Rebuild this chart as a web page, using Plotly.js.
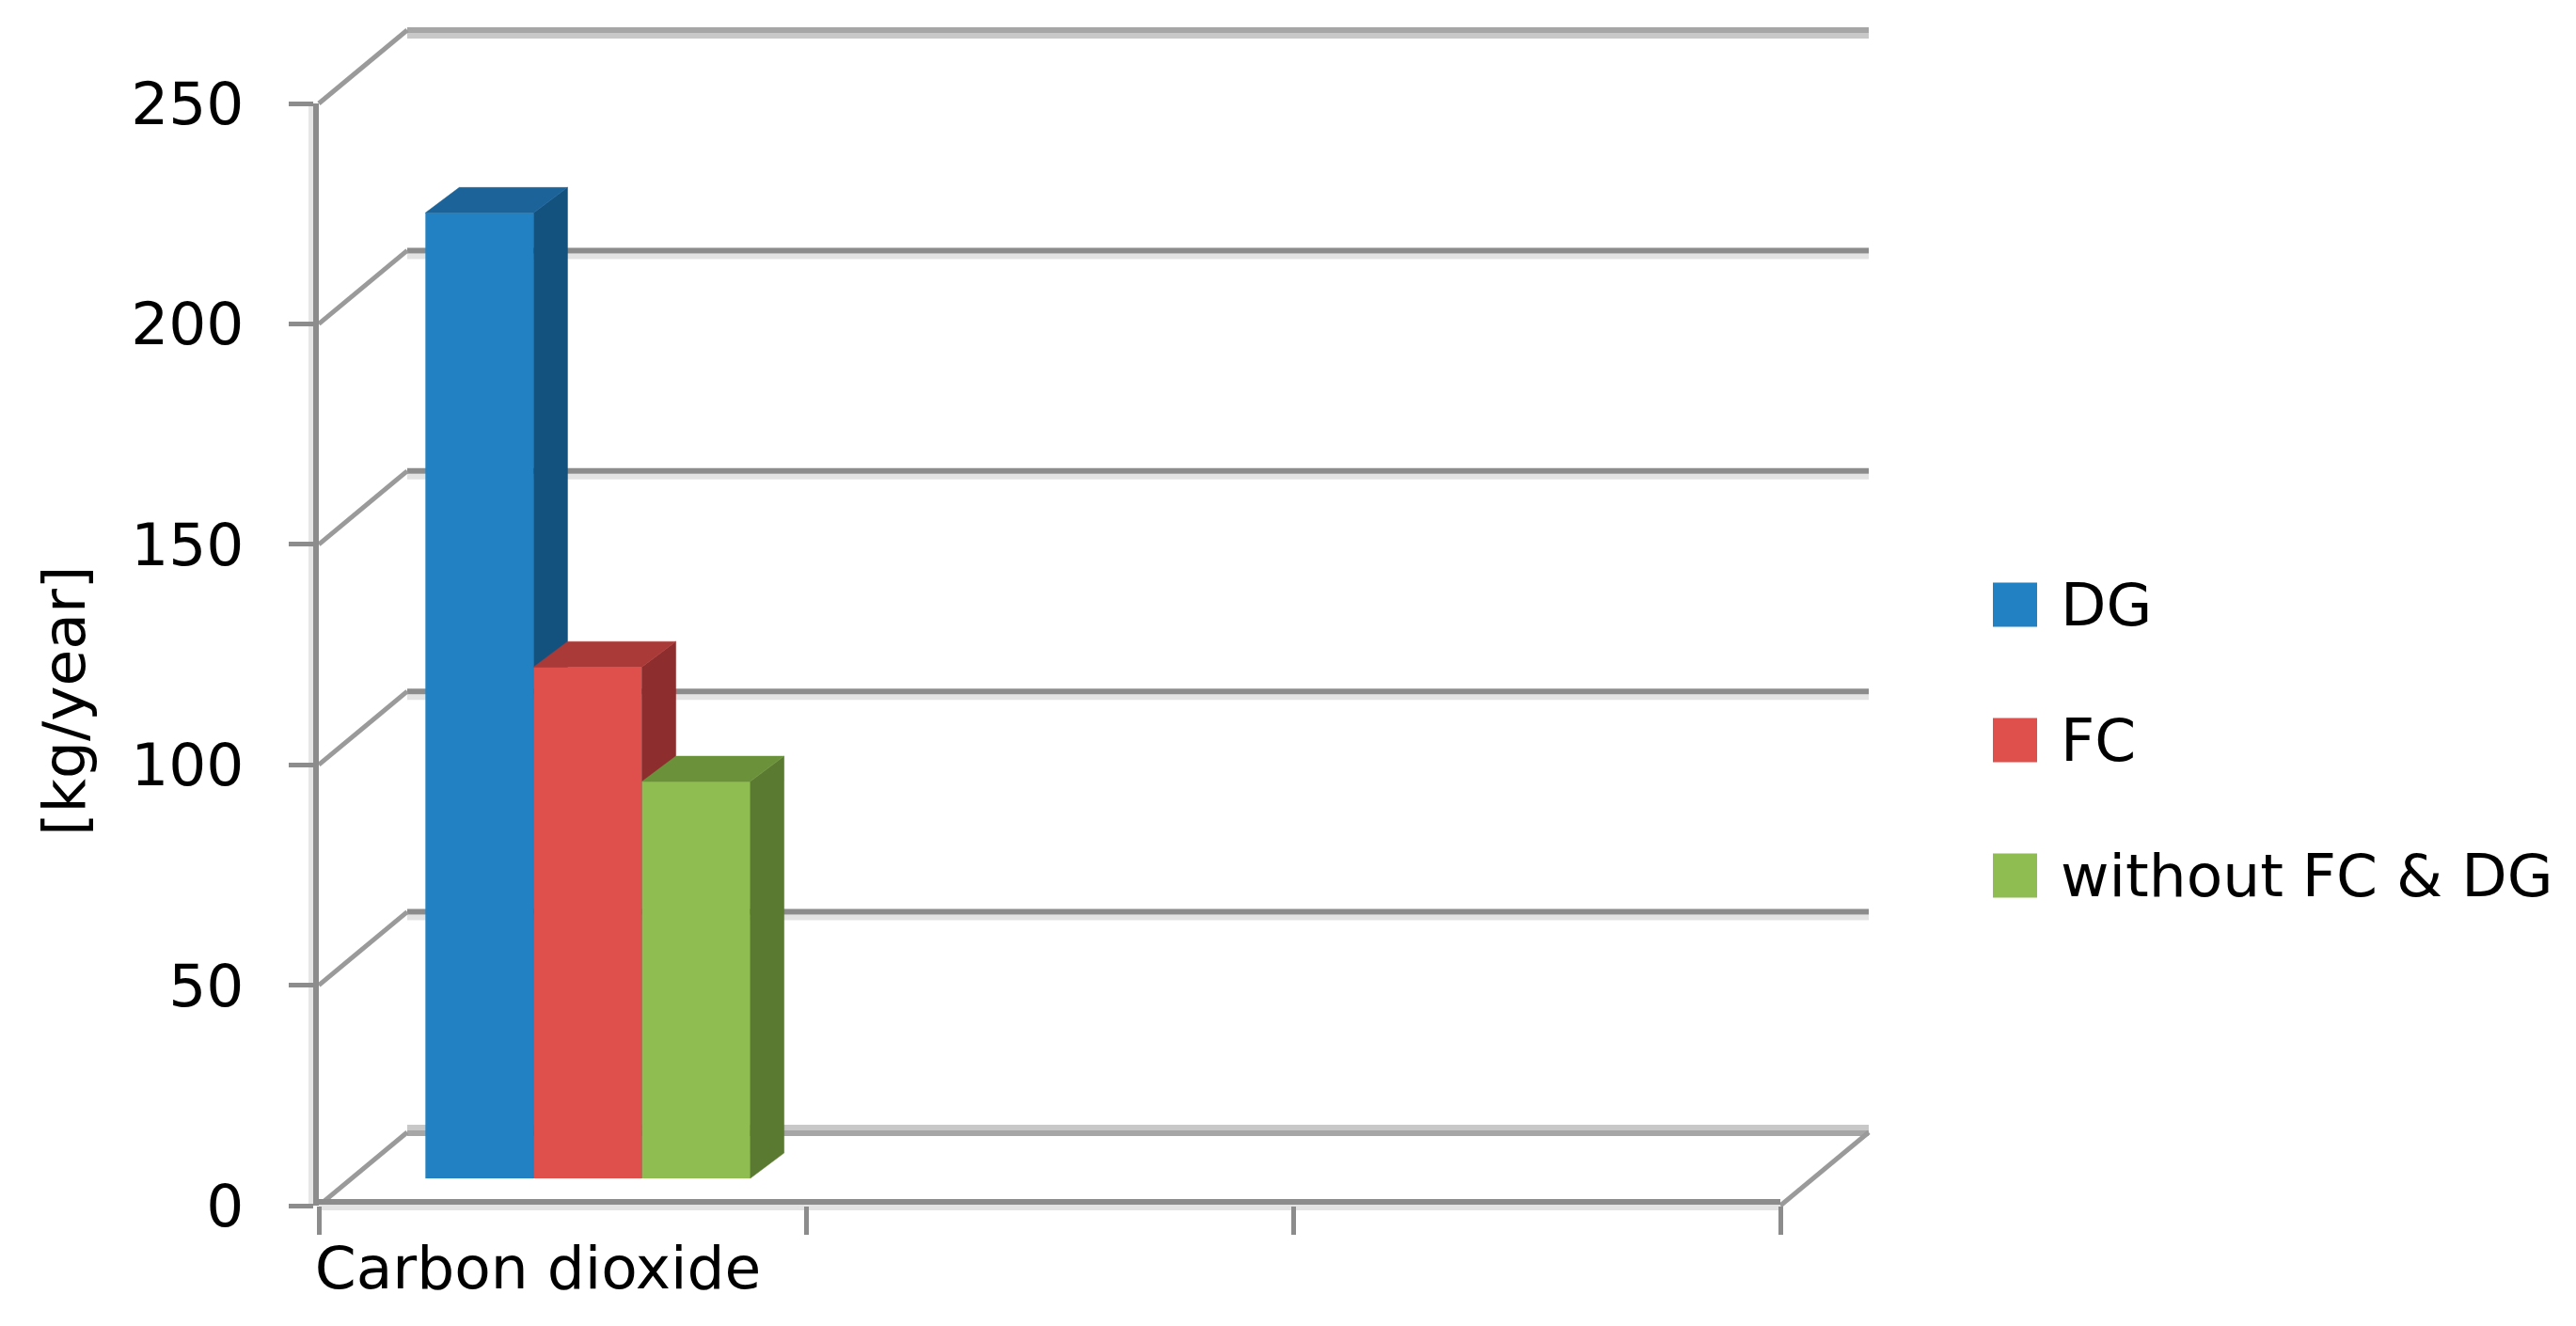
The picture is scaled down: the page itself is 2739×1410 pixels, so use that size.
<!DOCTYPE html>
<html>
<head>
<meta charset="utf-8">
<script src="https://cdn.plot.ly/plotly-3.0.1.min.js"></script>
<style>
  html, body { margin: 0; padding: 0; background: #ffffff; }
  #chart { width: 2739px; height: 1410px; }
</style>
</head>
<body>
<div id="chart"></div>
<script>
// ---------------- data ----------------
const categories = ['Carbon dioxide', '', ''];
const seriesNames = ['DG', 'FC', 'without FC & DG'];
const dgValues = [219, null, null];
const fcValues = [116, null, null];
const withoutFcDgValues = [90, null, null];
const yTickVals = [0, 50, 100, 150, 200, 250];
const yTitle = '[kg/year]';

// ---------------- styles / geometry ----------------
const W = 2739, H = 1410;
const FONT = 'DejaVu Sans, Verdana, sans-serif';
const FONT_SIZE = 63;
const frontColors = ['#2281c2', '#df4f4b', '#8fbd51'];
const topColors = ['#1b6399', '#aa3a38', '#6b923b'];
const sideColors = ['#13517e', '#8d2d2d', '#5a7a31'];
const GRID = '#8c8c8c';
const Y_MAX = yTickVals[yTickVals.length - 1];
const GAP = 1 / 3;                       // category gap (Excel gap width 150%)

const front = { x0: 339, x1: 1893, yZero: 1282, yMax: 110 };
const wallDepth = { dx: 94, dy: 78 };
const barPlaneShift = { dx: 27, dy: 29 };
const barDepth = { dx: 36, dy: 27 };

const px2x = px => px / W;
const px2y = py => 1 - py / H;
function plane(s) {
  return { x0: front.x0 + s.dx, x1: front.x1 + s.dx, yZero: front.yZero - s.dy, yMax: front.yMax - s.dy };
}
const back = plane(wallDepth);
const barPl = plane(barPlaneShift);
const yPx = (p, v) => p.yZero + (p.yMax - p.yZero) * v / Y_MAX;

// ---------------- decoration (walls, floor) ----------------
const shapes = [];
function seg(xa, ya, xb, yb, color, width) {
  shapes.push({ type: 'line', xref: 'paper', yref: 'paper', layer: 'below',
    x0: px2x(xa), y0: px2y(ya), x1: px2x(xb), y1: px2y(yb), line: { color: color, width: width } });
}
yTickVals.forEach(v => {
  const yb = yPx(back, v), yf = yPx(front, v);
  if (v === 0) {
    seg(back.x0, yb - 5, back.x1, yb - 5, '#c8c8c8', 6);
    seg(back.x0, yb + 1, back.x1, yb + 1, '#a6a6a6', 6);
  } else if (v === Y_MAX) {
    seg(back.x0, yb + 6, back.x1, yb + 6, '#c8c8c8', 6);
    seg(back.x0, yb, back.x1, yb, '#a6a6a6', 6);
  } else {
    seg(back.x0, yb + 6, back.x1, yb + 6, '#e3e3e3', 6);
    seg(back.x0, yb, back.x1, yb, GRID, 6);
  }
  seg(front.x0, yf, back.x0, yb, '#9a9a9a', 5);
});
// floor: right edge and front edge
seg(front.x1, front.yZero, back.x1, back.yZero, '#9a9a9a', 5);
seg(front.x0, front.yZero + 2, front.x1, front.yZero + 2, '#e3e3e3', 6);
seg(front.x0, front.yZero - 4, front.x1, front.yZero - 4, GRID, 6);
// soft shade left of the value axis
seg(front.x0 - 8, front.yMax, front.x0 - 8, front.yZero, '#e6e6e6', 6);

// ---------------- traces ----------------
const seriesValues = [dgValues, fcValues, withoutFcDgValues];
const xIdx = categories.map((c, i) => i);
const nSeries = seriesValues.length;
const barW = (1 - GAP) / nSeries;
const pxPerCat = (barPl.x1 - barPl.x0) / categories.length;
const pxPerUnit = (barPl.yZero - barPl.yMax) / Y_MAX;
const ddx = barDepth.dx / pxPerCat;
const ddy = barDepth.dy / pxPerUnit;

const traces = [];
// carrier trace so that the front (labelled) axes are drawn
traces.push({ type: 'scatter', mode: 'markers', x: xIdx, y: xIdx.map(() => null),
  xaxis: 'x', yaxis: 'y', hoverinfo: 'skip', showlegend: false, marker: { opacity: 0 } });

const layout = {
  width: W, height: H,
  margin: { l: 0, r: 0, t: 0, b: 0, pad: 0 },
  paper_bgcolor: '#ffffff', plot_bgcolor: 'rgba(0,0,0,0)',
  showlegend: false,
  font: { family: FONT, size: FONT_SIZE, color: '#000000' },
  shapes: shapes,
  annotations: []
};

seriesValues.forEach((vals, s) => {
  const n = s + 3, xa = 'x' + n, ya = 'y' + n;
  const off = -(1 - GAP) / 2 + s * barW;
  traces.push({
    type: 'bar', name: seriesNames[s], x: xIdx, y: vals, width: barW, offset: off,
    xaxis: xa, yaxis: ya, marker: { color: frontColors[s], line: { width: 0 } },
    hoverinfo: 'skip', showlegend: false
  });
  const topX = [], topY = [], sideX = [], sideY = [];
  vals.forEach((v, i) => {
    if (v === null || v === undefined) return;
    const xl = i + off, xr = xl + barW;
    topX.push(xl, xl + ddx, xr + ddx, xr, xl, null);
    topY.push(v, v + ddy, v + ddy, v, v, null);
    sideX.push(xr, xr + ddx, xr + ddx, xr, xr, null);
    sideY.push(0, ddy, v + ddy, v, 0, null);
  });
  [[sideX, sideY, sideColors[s]], [topX, topY, topColors[s]]].forEach(f => {
    traces.push({
      type: 'scatter', mode: 'lines', x: f[0], y: f[1], fill: 'toself', fillcolor: f[2],
      line: { color: f[2], width: 0.5 }, xaxis: xa, yaxis: ya, hoverinfo: 'skip', showlegend: false
    });
  });
  layout['xaxis' + n] = { domain: [px2x(barPl.x0), px2x(barPl.x1)], range: [-0.5, categories.length - 0.5],
    visible: false, fixedrange: true, anchor: ya };
  layout['yaxis' + n] = { domain: [px2y(barPl.yZero), px2y(barPl.yMax)], range: [0, Y_MAX],
    visible: false, fixedrange: true, anchor: xa };
});

// front axes: value ticks and category ticks
const boundaries = categories.map((c, i) => i - 0.5).concat([categories.length - 0.5]);
layout.xaxis = {
  domain: [px2x(front.x0), px2x(front.x1)], range: [-0.5, categories.length - 0.5], anchor: 'y',
  showline: false, showgrid: false, zeroline: false, fixedrange: true,
  tickmode: 'array', tickvals: xIdx, ticktext: categories, ticks: '',
  tickfont: { family: FONT, size: FONT_SIZE, color: '#000000' },
  ticklabelshift: -26, ticklabelstandoff: 24,
  minor: { tickmode: 'array', tickvals: boundaries, ticks: 'outside', ticklen: 30, tickwidth: 5, tickcolor: GRID, showgrid: false }
};
layout.yaxis = {
  domain: [px2y(front.yZero), px2y(front.yMax)], range: [0, Y_MAX], anchor: 'x',
  showline: true, linecolor: GRID, linewidth: 6, showgrid: false, zeroline: false, fixedrange: true,
  tickmode: 'array', tickvals: yTickVals, ticks: 'outside', ticklen: 26, tickwidth: 5, tickcolor: GRID,
  tickfont: { family: FONT, size: FONT_SIZE, color: '#000000' }, ticklabelstandoff: 35
};

// y axis title (Excel places it centred on the whole plot area)
layout.annotations.push({
  xref: 'paper', yref: 'paper', x: px2x(68), y: px2y(746), text: yTitle, textangle: -90,
  showarrow: false, xanchor: 'center', yanchor: 'middle',
  font: { family: FONT, size: FONT_SIZE, color: '#000000' }
});

// legend
const legendX = 2119, legendSize = 47, legendTextX = 2189;
const legendY = [643, 787, 931];
seriesNames.forEach((name, s) => {
  shapes.push({ type: 'rect', xref: 'paper', yref: 'paper', layer: 'above',
    x0: px2x(legendX), x1: px2x(legendX + legendSize),
    y0: px2y(legendY[s] + legendSize / 2), y1: px2y(legendY[s] - legendSize / 2),
    fillcolor: frontColors[s], line: { width: 0 } });
  layout.annotations.push({ xref: 'paper', yref: 'paper', x: px2x(legendTextX), y: px2y(legendY[s]),
    text: name, showarrow: false, xanchor: 'left', yanchor: 'middle',
    font: { family: FONT, size: FONT_SIZE, color: '#000000' } });
});

Plotly.newPlot('chart', traces, layout, { displayModeBar: false, staticPlot: true });
</script>
</body>
</html>
